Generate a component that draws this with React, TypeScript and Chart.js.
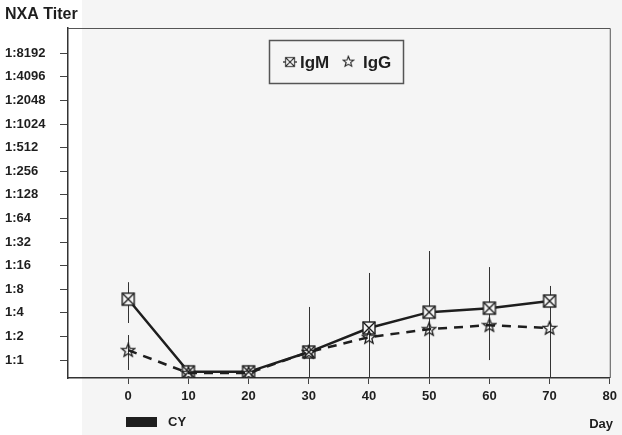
import React, { useEffect, useRef } from 'react';
import { Chart, registerables } from 'chart.js';
Chart.register(...registerables);

// Values are log2 of the reciprocal titer (0 => 1:1, 1 => 1:2, ...)
const days = [0, 10, 20, 30, 40, 50, 60, 70];
const igm = [2.58, -0.5, -0.5, 0.34, 1.36, 2.03, 2.2, 2.5];
const igg = [0.42, -0.55, -0.55, 0.34, 0.97, 1.31, 1.48, 1.36];
const errDays = [0, 0, 30, 40, 50, 60, 70];
const errTop = [3.3, 1.06, 2.25, 3.69, 4.62, 3.94, 3.14];
const errBottom = [1.57, -0.42, -0.76, -0.76, -0.76, 0, -0.76];
const yTickLabels = ['1:1', '1:2', '1:4', '1:8', '1:16', '1:32', '1:64', '1:128', '1:256', '1:512', '1:1024', '1:2048', '1:4096', '1:8192'];
const xTickValues = [0, 10, 20, 30, 40, 50, 60, 70, 80];
const yMin = -0.76;
const yMax = 14.07;

const INK = '#1e1e1e';
const FONT = '"Liberation Sans", Arial, sans-serif';

function mkSquare(): HTMLCanvasElement {
  const c = document.createElement('canvas');
  c.width = 16; c.height = 16;
  const g = c.getContext('2d')!;
  g.strokeStyle = INK; g.lineWidth = 1.4;
  g.fillStyle = '#f5f5f5';
  g.fillRect(2, 2, 12, 12);
  g.strokeRect(2, 2, 12, 12);
  g.beginPath();
  g.moveTo(2, 2); g.lineTo(14, 14);
  g.moveTo(14, 2); g.lineTo(2, 14);
  g.stroke();
  return c;
}

function mkStar(): HTMLCanvasElement {
  const c = document.createElement('canvas');
  c.width = 16; c.height = 16;
  const g = c.getContext('2d')!;
  g.strokeStyle = INK; g.lineWidth = 1.3;
  g.beginPath();
  for (let i = 0; i < 10; i++) {
    const r = i % 2 === 0 ? 7 : 3;
    const a = -Math.PI / 2 + (i * Math.PI) / 5;
    const x = 8 + r * Math.cos(a);
    const y = 8.5 + r * Math.sin(a);
    if (i === 0) g.moveTo(x, y); else g.lineTo(x, y);
  }
  g.closePath();
  g.stroke();
  return c;
}

export default function App() {
  const ref = useRef<HTMLCanvasElement>(null);
  useEffect(() => {
    document.body.style.margin = '0';
    const sq = mkSquare();
    const st = mkStar();

    const deco = {
      id: 'deco',
      beforeDraw(chart: any) {
        const ctx = chart.ctx;
        ctx.save();
        ctx.fillStyle = '#ffffff';
        ctx.fillRect(0, 0, chart.width, chart.height);
        ctx.fillStyle = '#f5f5f5';
        ctx.fillRect(82, 0, chart.width - 82, chart.height);
        ctx.restore();
      },
      beforeDatasetsDraw(chart: any) {
        const ctx = chart.ctx;
        const xs = chart.scales.x, ys = chart.scales.y;
        ctx.save();
        ctx.strokeStyle = '#333';
        ctx.lineWidth = 1;
        errDays.forEach((d, i) => {
          const x = Math.round(xs.getPixelForValue(d)) + 0.5;
          ctx.beginPath();
          ctx.moveTo(x, ys.getPixelForValue(errTop[i]));
          ctx.lineTo(x, ys.getPixelForValue(errBottom[i]));
          ctx.stroke();
        });
        ctx.restore();
      },
      afterDraw(chart: any) {
        const ctx = chart.ctx;
        const a = chart.chartArea;
        ctx.save();
        // top and right frame
        ctx.strokeStyle = '#555';
        ctx.lineWidth = 1;
        ctx.beginPath();
        ctx.moveTo(a.left, a.top + 0.5);
        ctx.lineTo(a.right + 0.5, a.top + 0.5);
        ctx.lineTo(a.right + 0.5, a.bottom);
        ctx.stroke();

        ctx.fillStyle = INK;
        ctx.textBaseline = 'middle';
        ctx.font = `bold 16px ${FONT}`;
        ctx.textAlign = 'left';
        ctx.fillText('NXA Titer', 5, 15);

        // CY key
        ctx.fillRect(126, 417, 31, 10);
        ctx.font = `bold 13px ${FONT}`;
        ctx.fillText('CY', 168, 422);

        // Day label
        ctx.textAlign = 'right';
        ctx.fillText('Day', 613, 424);

        // legend box
        ctx.strokeStyle = '#555';
        ctx.lineWidth = 1.5;
        ctx.strokeRect(269.5, 40.5, 134, 43);
        ctx.strokeStyle = INK;
        ctx.lineWidth = 1.2;
        ctx.beginPath();
        ctx.moveTo(283, 62); ctx.lineTo(297, 62);
        ctx.stroke();
        ctx.save();
        ctx.translate(284, 56);
        ctx.scale(0.75, 0.75);
        ctx.drawImage(sq, 0, 0);
        ctx.restore();
        ctx.save();
        ctx.translate(342, 55);
        ctx.scale(0.8, 0.8);
        ctx.drawImage(st, 0, 0);
        ctx.restore();
        ctx.textAlign = 'left';
        ctx.font = `bold 17px ${FONT}`;
        ctx.fillText('IgM', 300, 63);
        ctx.fillText('IgG', 363, 63);
        ctx.restore();
      },
    };

    const chart = new Chart(ref.current!, {
      type: 'line',
      data: {
        datasets: [
          {
            label: 'IgG',
            data: days.map((d, i) => ({ x: d, y: igg[i] })),
            borderColor: INK,
            borderWidth: 2.5,
            borderDash: [9, 7],
            pointStyle: st as any,
            pointRadius: 7,
            tension: 0,
          },
          {
            label: 'IgM',
            data: days.map((d, i) => ({ x: d, y: igm[i] })),
            borderColor: INK,
            borderWidth: 2.5,
            pointStyle: sq as any,
            pointRadius: 7,
            tension: 0,
          },
        ],
      },
      options: {
        responsive: false,
        animation: false,
        devicePixelRatio: 1,
        layout: { padding: { left: 5, top: 28, right: 9, bottom: 0 } },
        plugins: { legend: { display: false }, tooltip: { enabled: false } },
        scales: {
          x: {
            type: 'linear',
            min: -10,
            max: 80,
            afterBuildTicks: (s: any) => { s.ticks = xTickValues.map((v) => ({ value: v })); },
            afterFit: (s: any) => { s.height = 57; },
            ticks: {
              autoSkip: false,
              maxRotation: 0,
              padding: 5,
              color: INK,
              font: { family: FONT, size: 13, weight: 'bold' },
              callback: (v: any) => String(v),
            },
            grid: { drawOnChartArea: false, drawTicks: true, tickLength: 6, color: '#444' },
            border: { color: '#333', width: 1.5 },
          },
          y: {
            type: 'linear',
            min: yMin,
            max: yMax,
            afterBuildTicks: (s: any) => { s.ticks = yTickLabels.map((_, i) => ({ value: i })); },
            afterFit: (s: any) => { s.width = 63; },
            ticks: {
              autoSkip: false,
              crossAlign: 'far',
              color: INK,
              font: { family: FONT, size: 13, weight: 'bold' },
              callback: (v: any) => yTickLabels[Math.round(v)] ?? '',
            },
            grid: { drawOnChartArea: false, drawTicks: true, tickLength: 8, color: '#444' },
            border: { color: '#333', width: 1.5 },
          },
        },
      },
      plugins: [deco],
    } as any);
    return () => chart.destroy();
  }, []);
  return (
    <div style={{ width: 622, height: 435, position: 'relative' }}>
      <canvas ref={ref} width={622} height={435} style={{ display: 'block' }} />
    </div>
  );
}
